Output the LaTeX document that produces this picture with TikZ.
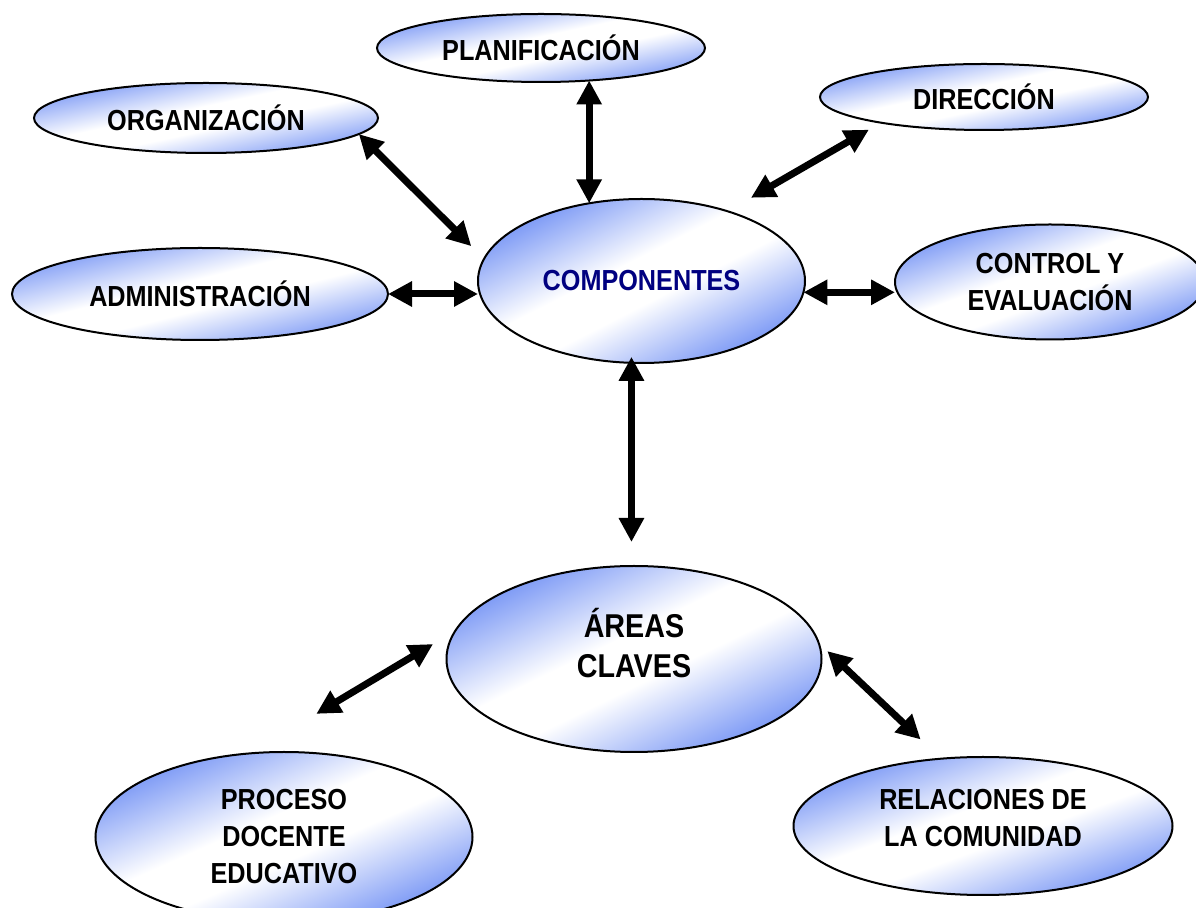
\documentclass[tikz,border=0pt]{standalone}
\usepackage{fontspec}
\setmainfont{Liberation Sans}[FakeStretch=0.87]
\usetikzlibrary{arrows.meta, shapes.geometric}
\definecolor{bubbleblue}{RGB}{120,150,245}
\definecolor{textnavy}{RGB}{0,0,128}
\pgfdeclareverticalshading{bubbleshade}{100bp}{color(0bp)=(bubbleblue); color(25bp)=(bubbleblue);
  color(45bp)=(white); color(55bp)=(white); color(75bp)=(bubbleblue); color(100bp)=(bubbleblue)}
\tikzset{
  bubble/.style={ellipse, draw=black, line width=1pt, inner sep=0pt, outer sep=0pt,
    shade, shading=bubbleshade, shading angle=#1,
    align=center, font=\fontsize{14.5}{18.5}\selectfont\bfseries},
  link/.style={line width=3.5pt,
    {Triangle[length=12pt,width=12pt]}-{Triangle[length=12pt,width=12pt]}}
}

\begin{document}
\begin{tikzpicture}[x=0.5pt, y=-0.5pt]
  \useasboundingbox (0,0) rectangle (1196,908);

  \node[bubble=12, minimum width=164pt, minimum height=34pt] (plan) at (541,48) {PLANIFICACIÓN};
  \node[bubble=12, minimum width=172pt, minimum height=35pt] (org) at (206,118) {ORGANIZACIÓN};
  \node[bubble=12, minimum width=164pt, minimum height=33pt] (dir) at (984,97) {DIRECCIÓN};
  \node[bubble=14, minimum width=188pt, minimum height=46pt] (adm) at (200,294) {ADMINISTRACIÓN};
  \node[bubble=27, minimum width=163.5pt, minimum height=82pt, text=textnavy] (comp) at (641.5,281) {COMPONENTES};
  \node[bubble=20, minimum width=155pt, minimum height=57.5pt] (ctrl) at (1050,282) {CONTROL Y\\EVALUACIÓN};
  \node[bubble=26, minimum width=187.5pt, minimum height=93pt,
        label={[align=center, yshift=8pt, font=\fontsize{16.5}{20}\selectfont\bfseries]center:ÁREAS\\CLAVES}]
        (areas) at (634,659) {};
  \node[bubble=24, minimum width=188.5pt, minimum height=85pt] (proc) at (284,837) {PROCESO\\DOCENTE\\EDUCATIVO};
  \node[bubble=20, minimum width=189.5pt, minimum height=69pt,
        label={[align=center, yshift=4pt, font=\fontsize{14.5}{18.5}\selectfont\bfseries]center:RELACIONES DE\\LA COMUNIDAD}]
        (rel) at (983,826) {};

  \draw[link] (plan.-34) -- (plan.-34 |- comp.124);
  \draw[link, shorten >=9pt] (org.-6) -- (comp.172);
  \draw[link, shorten <=7pt, shorten >=13.5pt] (dir.194) -- (comp.39);
  \draw[link] (adm.east) -- (adm.east -| comp.west);
  \draw[link] (comp.-4) -- (comp.-4 -| ctrl.west);
  \draw[link, shorten <=-3pt, shorten >=12pt] (comp.-97) -- (comp.-97 |- areas.north);
  \draw[link, shorten <=13pt, shorten >=38.5pt] (areas.171) -- (proc.112);
  \draw[link, shorten <=6pt, shorten >=14pt] (areas.5) -- (rel.122);
\end{tikzpicture}
\end{document}
